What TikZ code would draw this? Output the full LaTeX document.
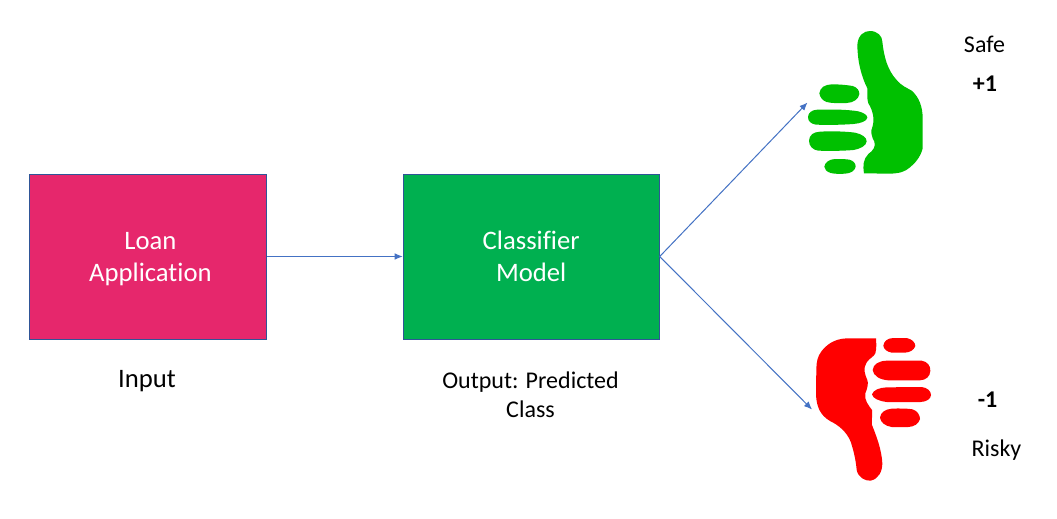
\documentclass[tikz,border=0pt]{standalone}
\usepackage{fontspec}
\setmainfont[Ligatures=NoCommon]{Carlito}
\usetikzlibrary{arrows.meta}
\definecolor{pinkbox}{HTML}{E6276C}
\definecolor{greenbox}{HTML}{00B050}
\definecolor{edgeblue}{HTML}{2F5597}
\definecolor{arrowblue}{HTML}{4472C4}
\definecolor{thumbgreen}{HTML}{00C000}
\tikzset{
  x=0.75pt,y=-0.75pt,
  flowbox/.style={draw=edgeblue,line width=0.75pt,text=white,font=\fontsize{20}{24}\selectfont,align=center,inner sep=0pt},
  link/.style={draw=arrowblue,line width=0.75pt,-{Latex[length=6pt,width=5pt]}},
  cap20/.style={font=\fontsize{20}{24}\selectfont,align=center,inner sep=0pt},
  cap18/.style={font=\fontsize{18}{22}\selectfont,align=center,inner sep=0pt},
  cap18n/.style={font=\fontsize{18}{22}\selectfont,align=center,inner sep=0pt},
  cap18b/.style={font=\fontsize{18}{22}\selectfont\bfseries,align=center,inner sep=0pt},
  blob/.style={line width=0pt,draw=none},
}
\begin{document}
\begin{tikzpicture}
\useasboundingbox (0,0) rectangle (1057,518);
\fill[white] (0,0) rectangle (1057,518);

\node[flowbox,fill=pinkbox,minimum width=177.75pt,minimum height=123.75pt] (loan) at (147.75,256.5) {\rule{0pt}{21.3pt}\hspace*{4pt}Loan\\\strut\hspace*{4pt}Application};
\node[flowbox,fill=greenbox,minimum width=192pt,minimum height=123.75pt] (clf) at (531.2,256.5) {\rule{0pt}{21.3pt}Classifier\\\strut Model};
\coordinate (safeend) at (807.5,102.5);
\coordinate (riskyend) at (812,409.5);
\draw[link] (loan.east) -- (clf.west);
\draw[link] (clf.east) -- (safeend);
\draw[link] (clf.east) -- (riskyend);

\node[cap20] (input) at (147,381.5) {\strut Input};
\node[cap18] (output) at (530.5,397) {\strut Output: Predicted\\\strut Class};
\node[cap18n] (safe) at (984.5,47) {\strut Safe};
\node[cap18b] (plus) at (985,86) {\strut +1};
\node[cap18b] (minus) at (987.5,402) {\strut -1};
\node[cap18n] (risky) at (996.5,451) {\strut Risky};

\begin{scope}[shift={(790,20)},x=0.25pt,y=-0.25pt]
  \fill[thumbgreen,blob] (222,460) .. controls (218,435) and (220,418) .. (235,402)
    .. controls (250,392) and (258,378) .. (253,365)
    .. controls (245,350) and (240,335) .. (248,318)
    .. controls (254,295) and (248,270) .. (235,250)
    .. controls (230,235) and (233,222) .. (232,205)
    .. controls (215,170) and (203,130) .. (202,75)
    .. controls (204,45) and (222,33) .. (240,33)
    .. controls (262,33) and (277,48) .. (277,65)
    .. controls (282,110) and (292,150) .. (320,180)
    .. controls (335,198) and (350,203) .. (365,212)
    .. controls (388,232) and (398,262) .. (398,295)
    -- (398,385)
    .. controls (392,410) and (375,430) .. (360,442)
    .. controls (345,455) and (330,460) .. (300,461)
    -- cycle;
  \fill[thumbgreen,blob] (88,220) .. controls (90,202) and (105,194) .. (125,193)
    .. controls (150,193) and (170,195) .. (188,198)
    .. controls (202,202) and (208,212) .. (208,222)
    .. controls (206,238) and (190,248) .. (170,249)
    .. controls (150,250) and (125,250) .. (110,246)
    .. controls (98,242) and (90,232) .. (88,220) -- cycle;
  \fill[thumbgreen,blob] (54,292) .. controls (54,278) and (65,270) .. (82,269)
    .. controls (120,268) and (170,268) .. (205,274)
    .. controls (222,278) and (232,286) .. (232,293)
    .. controls (230,304) and (212,310) .. (190,312)
    .. controls (150,315) and (110,315) .. (78,314)
    .. controls (64,312) and (54,304) .. (54,292) -- cycle;
  \fill[thumbgreen,blob] (57,362) .. controls (58,345) and (70,336) .. (90,335)
    .. controls (125,333) and (165,334) .. (195,338)
    .. controls (215,342) and (230,352) .. (230,364)
    .. controls (228,378) and (212,386) .. (190,390)
    .. controls (155,393) and (115,393) .. (85,392)
    .. controls (68,390) and (57,378) .. (57,362) -- cycle;
  \fill[thumbgreen,blob] (103,440) .. controls (105,426) and (118,418) .. (135,417)
    .. controls (150,417) and (165,417) .. (178,419)
    .. controls (190,422) and (197,430) .. (197,440)
    .. controls (195,452) and (183,460) .. (165,461)
    .. controls (150,462) and (135,462) .. (122,459)
    .. controls (110,455) and (103,448) .. (103,440) -- cycle;
\end{scope}

\begin{scope}[shift={(790,325)},x=0.25pt,y=-0.25pt]
  \fill[red,blob] (258,40) -- (170,40)
    .. controls (130,42) and (110,60) .. (95,78)
    .. controls (82,95) and (80,110) .. (79,130)
    -- (78,210)
    .. controls (80,245) and (90,270) .. (120,288)
    .. controls (145,300) and (170,320) .. (182,350)
    .. controls (192,380) and (198,410) .. (200,435)
    .. controls (205,458) and (225,468) .. (242,467)
    .. controls (265,462) and (277,440) .. (277,415)
    .. controls (275,375) and (260,335) .. (246,300)
    .. controls (244,285) and (248,270) .. (246,255)
    .. controls (235,240) and (222,225) .. (226,205)
    .. controls (232,190) and (236,175) .. (232,165)
    .. controls (225,150) and (218,130) .. (230,112)
    .. controls (240,98) and (252,95) .. (256,85)
    .. controls (260,70) and (259,55) .. (258,40) -- cycle;
  \fill[red,blob] (280,62) .. controls (282,48) and (292,40) .. (310,39)
    -- (350,39)
    .. controls (365,42) and (376,52) .. (376,63)
    .. controls (372,75) and (360,82) .. (345,83)
    -- (305,83)
    .. controls (290,80) and (281,72) .. (280,62) -- cycle;
  \fill[red,blob] (248,135) .. controls (250,118) and (265,108) .. (290,107)
    -- (395,107)
    .. controls (412,110) and (422,122) .. (421,138)
    .. controls (420,155) and (408,165) .. (390,166)
    -- (295,166)
    .. controls (268,164) and (250,152) .. (248,135) -- cycle;
  \fill[red,blob] (246,208) .. controls (250,195) and (268,188) .. (290,187)
    -- (395,186)
    .. controls (412,188) and (423,198) .. (423,210)
    .. controls (422,222) and (410,230) .. (392,231)
    -- (290,231)
    .. controls (266,228) and (248,220) .. (246,208) -- cycle;
  \fill[red,blob] (270,278) .. controls (272,262) and (285,253) .. (305,251)
    .. controls (325,250) and (350,250) .. (368,253)
    .. controls (382,258) and (390,270) .. (390,282)
    .. controls (386,297) and (372,305) .. (355,306)
    -- (305,306)
    .. controls (285,303) and (272,292) .. (270,278) -- cycle;
\end{scope}
\end{tikzpicture}
\end{document}
